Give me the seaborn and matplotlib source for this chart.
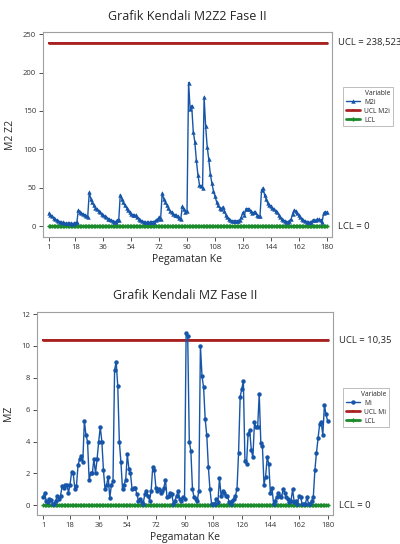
import numpy as np
import seaborn as sns
import matplotlib
matplotlib.use("Agg")
import matplotlib.pyplot as plt
import matplotlib.transforms as mtransforms

m2z2 = [17, 15, 13, 11, 9, 8, 7, 6, 5, 5, 4, 4, 4, 4, 4, 3, 4, 4,
        5, 21, 19, 17, 16, 15, 13, 12,
        44, 36, 31, 27, 24, 22, 20, 18, 16, 14, 13, 12, 10, 9, 8, 7, 5, 6, 8, 8,
        41, 36, 31, 27, 24, 21, 18, 16, 15, 15, 14, 12, 10, 8, 7, 6, 5, 5, 5, 5, 6, 6, 6,
        8, 9, 12, 10,
        43, 36, 32, 28, 24, 20, 18, 16, 15, 14, 13, 11, 10,
        26, 22, 19, 20,
        187,
        152, 157, 123, 110, 86, 67, 54, 52, 50,
        168, 130, 103, 87, 68, 56, 46, 39, 32, 27, 24, 22, 25, 20, 15, 12, 9,
        8, 7, 7, 7, 7, 7, 8, 12, 18, 15, 23, 23, 22, 20, 17, 18, 19, 15, 13, 13,
        47, 50, 40, 35, 30, 28, 26, 24, 22, 20, 18, 15, 12, 10, 8, 7, 6, 6, 7, 9,
        16, 21, 20, 17, 15, 12, 10, 8, 7, 6, 6, 5, 5,
        8, 8, 8, 9, 9, 8, 5, 17, 19, 18]

mz = [0.55, 0.75, 0.3, 0.2, 0.4, 0.35, 0.1, 0.1, 0.3, 0.6,
      0.4, 0.6, 1.2, 1.1, 1.25, 1.3, 0.8, 1.3, 2.1, 2.0,
      1.0, 1.2, 2.5, 2.9, 3.1, 2.7, 5.3, 4.4, 4.0, 1.6,
      2.0, 2.0, 2.9, 2.0, 2.9, 4.0, 4.9, 4.0, 2.2, 1.0,
      1.3, 1.8, 0.45, 1.3, 1.5, 8.5, 9.0, 7.5, 4.0, 2.7,
      1.0, 1.3, 1.6, 3.2, 2.3, 2.0, 1.0, 1.1, 1.1, 0.7,
      0.3, 0.4, 0.2, 0.1, 0.7, 0.9, 0.6, 0.3, 0.9, 2.4,
      2.2, 1.1, 0.9, 1.0, 0.8, 0.9, 1.1, 1.6, 0.5, 0.6,
      0.8, 0.7, 0.1, 0.3, 0.6, 0.9, 0.4, 0.3, 0.5, 0.4,
      10.8, 10.6, 4.0, 3.4, 1.0, 0.5, 0.4, 0.3, 0.9, 10.0,
      8.1, 7.4, 5.4, 4.4, 2.4, 1.0, 0.1, 0.1, 0.1, 0.4,
      0.2, 1.7, 0.6, 0.9, 0.8, 0.6, 0.6, 0.2, 0.1, 0.3,
      0.4, 0.6, 1.0, 3.3, 6.8, 7.3, 7.8, 2.8, 2.6, 4.5,
      4.7, 3.5, 3.0, 5.2, 4.9, 4.9, 7.0, 3.9, 3.7, 1.3,
      1.8, 3.0, 2.6, 0.8, 1.1, 0.1, 0.3, 0.5, 0.8, 0.6,
      0.5, 1.0, 0.8, 0.5, 0.4, 0.2, 0.3, 1.0, 0.2, 0.3,
      0.1, 0.6, 0.5, 0.1, 0.1, 0.1, 0.5, 0.1, 0.1, 0.3,
      0.5, 2.2, 3.3, 4.2, 5.1, 5.2, 4.4, 6.3, 5.7, 5.3]

ucl_top = 238.523
ucl_bot = 10.35
lcl = 0
x_ticks = [1, 18, 36, 54, 72, 90, 108, 126, 144, 162, 180]

BLUE = "#1655a8"
RED = "#a82222"
GREEN = "#1a8a2a"

sns.set_theme(style="white")
plt.rcParams["font.family"] = ["Open Sans", "DejaVu Sans"]

fig = plt.figure(figsize=(4.0, 5.44), dpi=100)
ax1 = fig.add_axes([0.1075, 0.564, 0.7225, 0.377])
ax2 = fig.add_axes([0.0925, 0.0533, 0.74, 0.374])


def draw(ax, y, ucl, name, ucl_name, mk, title, ylabel, ylim, yticks, ucl_txt, leg_xy):
    obs = np.arange(1, len(y) + 1)
    sns.lineplot(x=obs, y=np.full(len(obs), lcl), color=GREEN, marker="P",
                 markersize=3, markeredgewidth=0, linewidth=2, label="LCL", ax=ax)
    sns.lineplot(x=obs, y=np.full(len(obs), ucl), color=RED, marker="s",
                 markersize=1.5, markeredgewidth=0, linewidth=2, label=ucl_name, ax=ax)
    sns.lineplot(x=obs, y=y, color=BLUE, marker=mk, markersize=3.2,
                 markeredgewidth=0, linewidth=1.0, label=name, ax=ax)

    ax.set_xlim(-2.8, 183.4)
    ax.set_ylim(*ylim)
    ax.set_xticks(x_ticks)
    ax.set_yticks(yticks)
    ax.tick_params(axis="both", labelsize=5.5, colors="#333333", length=3,
                   width=0.6, direction="out", bottom=True, left=True, pad=2)
    for sp in ax.spines.values():
        sp.set_color("#a0a0a0")
        sp.set_linewidth(0.8)
    ax.set_title(title, fontsize=9, pad=9)
    ax.set_xlabel("Pegamatan Ke", fontsize=7.5, labelpad=2)
    ax.set_ylabel(ylabel, fontsize=7.5, labelpad=5)

    tr = mtransforms.blended_transform_factory(ax.transAxes, ax.transData)
    ax.text(1.02, ucl, ucl_txt, transform=tr, fontsize=6.8, va="center", ha="left")
    ax.text(1.02, lcl, "LCL = 0", transform=tr, fontsize=6.8, va="center", ha="left")

    handles, labels = ax.get_legend_handles_labels()
    order = [labels.index(n) for n in [name, ucl_name, "LCL"]]
    leg = ax.legend([handles[i] for i in order], [labels[i] for i in order],
                    title="Variable", loc="upper left", bbox_to_anchor=leg_xy,
                    fontsize=4.8, title_fontsize=4.8, frameon=True, fancybox=False,
                    edgecolor="#a0a0a0", borderpad=0.4, handlelength=2.2,
                    handletextpad=0.6, borderaxespad=0, labelspacing=0.3)
    leg.get_frame().set_linewidth(0.6)
    leg._legend_box.align = "right"


draw(ax1, m2z2, ucl_top, "M2i", "UCL M2i", "^", "Grafik Kendali M2Z2 Fase II",
     "M2 Z2", (-14.3, 252.6), [0, 50, 100, 150, 200, 250], "UCL = 238,523",
     (1.038, 0.732))
draw(ax2, mz, ucl_bot, "Mi", "UCL Mi", "o", "Grafik Kendali MZ Fase II",
     "MZ", (-0.61, 12.16), [0, 2, 4, 6, 8, 10, 12], "UCL = 10,35",
     (1.034, 0.625))

fig.savefig("out.png", dpi=100)
